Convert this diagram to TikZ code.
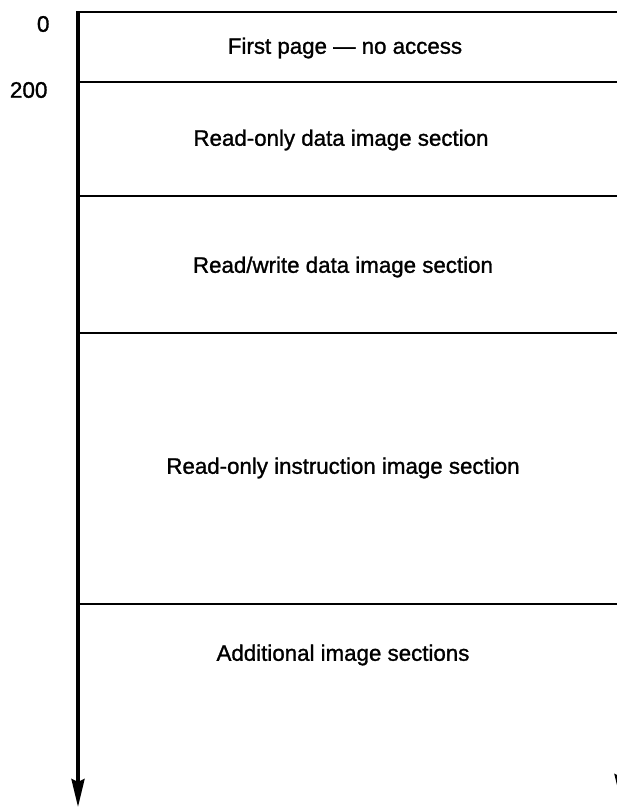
\documentclass[tikz,border=0pt]{standalone}
\usepackage{fontspec}
\setmainfont{Liberation Sans}
\newfontfamily\labelfont{Liberation Sans}[FakeBold=1.2]
\usetikzlibrary{arrows.meta}
\begin{document}
\begin{tikzpicture}[x=1pt,y=-1pt,
  boundary/.style={line width=2.8pt},
  axis/.style={line width=3.4pt,-{Stealth[length=28pt,width=13pt,inset=3pt]}},
  seclabel/.style={font=\labelfont\fontsize{22.3}{26}\selectfont,anchor=center},
  addrlabel/.style={font=\labelfont\fontsize{22.5}{26}\selectfont,anchor=east}]
\useasboundingbox (0,0) rectangle (616,808);

% section boundaries along the left and right edges
\coordinate (l0) at (78,12);
\coordinate (l1) at (78,82);
\coordinate (l2) at (78,196);
\coordinate (l3) at (78,333);
\coordinate (l4) at (78,604);
\coordinate (lend) at (78,807);
\coordinate (r0) at (621,12);
\coordinate (r1) at (621,82);
\coordinate (r2) at (621,196);
\coordinate (r3) at (621,333);
\coordinate (r4) at (621,604);
\coordinate (rend) at (621,802);

% address axes
\draw[axis] (l0) -- (lend);
\draw[axis] (r0) -- (rend);

% horizontal boundaries
\draw[boundary] ([xshift=-1.7pt]l0) -- (r0);
\draw[boundary] (l1) -- (r1);
\draw[boundary] (l2) -- (r2);
\draw[boundary] (l3) -- (r3);
\draw[boundary] (l4) -- (r4);

% addresses
\node[addrlabel] (a0) at (53,24) {0};
\node[addrlabel] (a200) at (51,90) {200};

% section names
\node[seclabel] (s0) at (345,48) {First page — no access};
\node[seclabel] (s1) at (341,140) {Read-only data image section};
\node[seclabel] (s2) at (343,267) {Read/write data image section};
\node[seclabel] (s3) at (343,468) {Read-only instruction image section};
\node[seclabel] (s4) at (343,655) {Additional image sections};
\end{tikzpicture}
\end{document}
